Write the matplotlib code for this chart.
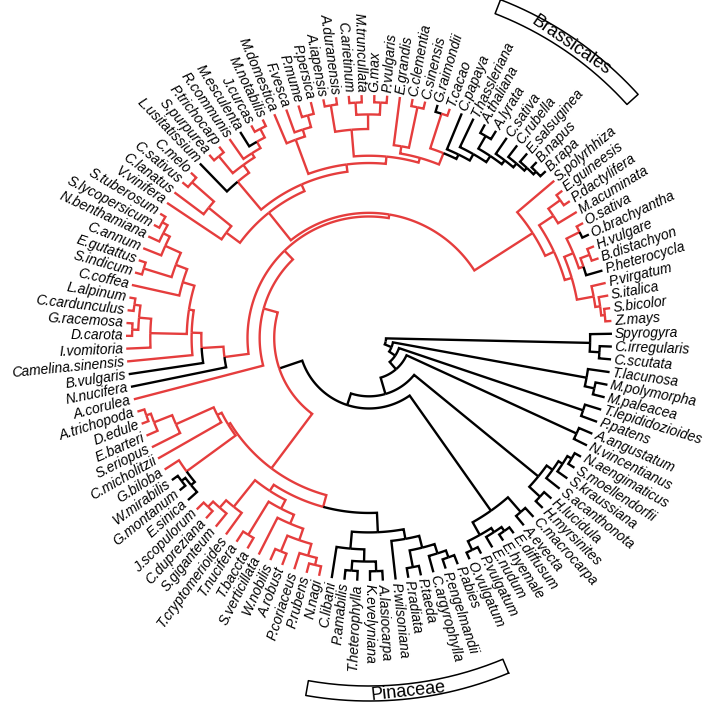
import numpy as np
import matplotlib.pyplot as plt

RED = '#e53d3d'

# clades written clockwise starting at Spyrogyra; "@x" = node radius (tips = 1)
# "*" after a clade = black clade, "+" = red clade
algae = "(Spyrogyra,(C.irregularis,C.scutata)@0.95)@0.91"
liverworts = "(T.lacunosa,(M.polymorpha,M.paleacea)@0.95)@0.91"
mosses = "(T.lepididozioides,P.patens)@0.93"
hornworts = "(A.angustatum,N.vincentianus)@0.94"
lycophytes = "((((N.aengimaticus,S.moellendorfii)@0.97,S.kraussiana)@0.95,S.acanthonota)@0.93,(H.lucidula,H.myrsinites)@0.96)@0.90"
ferns = "((C.macrocarpa,A.evecta)@0.95,(((E.diffusum,E.hyemale)@0.97,E.nudum)@0.95,(P.vulgatum,O.vulgatum)@0.97)@0.93)@0.87"

pinaceae = ("(((((P.abies,P.engelmandii)@0.96,C.argyrophylla)@0.93,(P.taeda,P.radiata)@0.96)@0.89,P.wilsoniana)@0.84,"
            "(((A.lasiocarpa,K.evelyniana)@0.96,(T.heterophylla,P.amabilis)@0.96)@0.92,C.libani)@0.87)@0.80*")
cupressophytes = ("((((((N.nagi,P.rubens)@0.96,P.coriaceus)@0.93,(A.robust,W.nobilis)@0.95)@0.88,S.verticillata)@0.83,"
                  "(T.baccta,T.nucifera)@0.95)@0.79,(T.cryptomerioides,(S.giganteum,(C.dupreziana,J.scopulorum)@0.96)@0.93)@0.89)@0.75")
cycads_ginkgo = ("(((E.sinica,(G.montanum,W.mirabilis)@0.97)@0.95*,G.biloba)@0.93,"
                 "(C.micholitzii,(S.eriopus,(E.barteri,(D.edule,A.trichopoda)@0.97)@0.95)@0.87)@0.70)@0.68")

asterids = ("((I.vomitoria,((D.carota,G.racemosa)@0.975,(C.cardunculus,L.alpinum)@0.975)@0.95)@0.90,"
            "(C.coffea,((S.indicum,E.gutattus)@0.97,(C.annum,(N.benthamiana,(S.lycopersicum,S.tuberosum)@0.975)@0.95)@0.92)@0.85)@0.80)@0.75")
early_eudicots = "(N.nucifera,(B.vulgaris,(Camelina.sinensis," + asterids + ")@0.73)@0.69)@0.60"

vitis_cucurbits = "(V.vinifera,(C.lanatus,(C.sativus,C.melo)@0.97)@0.85)@0.73"
malpighiales = "(L.usitatissium,((S.purpurea,P.trichocarp)@0.97,(R.communis,(M.esculenta,(J.curcas,M.notabilis)@0.97)@0.93)@0.90)@0.88)@0.84"
rosales = "(M.domestica,(F.vesca,(P.mume,P.persica)@0.95)@0.90)@0.87"
fabales = "((A.iapensis,A.duranensis)@0.97,((C.arietinum,M.truncullata)@0.97,(G.max,P.vulgaris)@0.97)@0.92)@0.86"
myrt_citrus = "(E.grandis,(C.clementia,C.sinensis)@0.97)@0.80"
malvales = "(G.raimondii,T.cacao)@0.97"
brassicales = ("(C.papaya,(T.hassleriana,((A.thaliana,A.lyrata)@0.96,(C.sativa,(C.rubella,(E.salsuginea,(B.napus,B.rapa)@0.97)@0.955)@0.94)@0.92)@0.90)@0.87)@0.84*")
monocots = ("(S.polyrhhiza,(((E.guineesis,P.dactylifera)@0.97,M.acuminata)@0.91,(((O.sativa,O.brachyantha)@0.97,"
            "((H.vulgare,B.distachyon)@0.97,P.heterocycla)@0.93)@0.91,(P.virgatum,(S.italica,(S.bicolor,Z.mays)@0.975)@0.96)@0.94)@0.87)@0.84)@0.80")

black_tips = ['N.nucifera', 'B.vulgaris', 'L.usitatissium', 'M.esculenta', 'G.raimondii',
              'O.brachyantha', 'P.heterocycla']

rosids = ("(" + vitis_cucurbits + ",(" + malpighiales + ",(" + rosales + ",(" + fabales + ",(" + myrt_citrus
          + ",(" + malvales + "," + brassicales + ")@0.82)@0.77)@0.75)@0.72)@0.69)@0.66")
angio = "(A.corulea,(" + early_eudicots + ",(" + rosids + "," + monocots + ")@0.515)@0.50)@0.45+"
gymno = "((" + pinaceae + "," + cupressophytes + ")@0.72," + cycads_ginkgo + ")@0.67+"
tree = ("(" + algae + ",(" + liverworts + ",(" + mosses + ",(" + hornworts + ",(" + lycophytes + ",(" + ferns
        + ",(" + gymno + "," + angio + ")@0.39)@0.29)@0.24)@0.17)@0.13)@0.10)@0.07")

# clade bars outside the labels: (text, first tip, last tip)
clade_bars = [('Brassicales', 'C.papaya', 'B.rapa'), ('Pinaceae', 'P.abies', 'C.libani')]


def parse(s):
    pos = 0

    def node():
        nonlocal pos
        if s[pos] == '(':
            pos += 1
            kids = [node()]
            while s[pos] == ',':
                pos += 1
                kids.append(node())
            pos += 2  # ')@'
            j = pos
            while pos < len(s) and (s[pos].isdigit() or s[pos] == '.'):
                pos += 1
            r = float(s[j:pos])
            name = None
        else:
            j = pos
            while pos < len(s) and s[pos] not in ',()*+':
                pos += 1
            name = s[j:pos]
            kids = []
            r = 1.0
        mark = None
        if pos < len(s) and s[pos] in '*+':
            mark = s[pos]
            pos += 1
        return {'name': name, 'kids': kids, 'r': r, 'mark': mark}

    return node()


root = parse(tree)

# tip angles, clockwise
leaves = []


def collect(n):
    if not n['kids']:
        leaves.append(n)
    for k in n['kids']:
        collect(k)


collect(root)
n_tips = len(leaves)
a0 = 1.0
step = 360.0 / n_tips
for i, lf in enumerate(leaves):
    lf['theta'] = a0 - i * step


def set_theta(n, col):
    if n['mark'] == '*':
        col = 'black'
    elif n['mark'] == '+':
        col = RED
    if not n['kids'] and n['name'] in black_tips:
        n['col'] = 'black'
    else:
        n['col'] = col
    for k in n['kids']:
        set_theta(k, col)
    if n['kids']:
        n['theta'] = np.mean([k['theta'] for k in n['kids']])


set_theta(root, 'black')

cx, cy = 369, 338
R = 243
R_lab = 246

fig = plt.figure(figsize=(7.09, 7.07), dpi=100)
ax = fig.add_axes([0, 0, 1, 1])
ax.set_xlim(0, 709)
ax.set_ylim(707, 0)
ax.axis('off')


def xy(r, th):
    t = np.radians(th)
    return cx + r * np.cos(t), cy - r * np.sin(t)


def draw(n):
    for k in n['kids']:
        rp = n['r'] * R
        ths = np.linspace(n['theta'], k['theta'], 60)
        xs, ys = xy(rp, ths)
        x2, y2 = xy(k['r'] * R, k['theta'])
        xs = np.append(xs, x2)
        ys = np.append(ys, y2)
        ax.plot(xs, ys, color=k['col'], lw=1.7, solid_joinstyle='miter', solid_capstyle='butt')
        draw(k)


draw(root)

for lf in leaves:
    th = (lf['theta'] + 180) % 360 - 180
    x, y = xy(R_lab, th)
    if -90 < th <= 90:
        rot, ha = th, 'left'
    else:
        rot, ha = th + 180, 'right'
    ax.text(x, y, lf['name'], rotation=rot, ha=ha, va='center', rotation_mode='anchor',
            fontsize=10, style='italic', family='Liberation Sans')

tip_theta = {lf['name']: lf['theta'] for lf in leaves}
for label, first, last in clade_bars:
    t1 = tip_theta[first] + 1.2
    t2 = tip_theta[last] - 1.2
    ths = np.linspace(t1, t2, 80)
    r_in, r_out = 348, 363
    xo, yo = xy(r_out, ths)
    xi, yi = xy(r_in, ths[::-1])
    px = np.concatenate([xo, xi, xo[:1]])
    py = np.concatenate([yo, yi, yo[:1]])
    ax.plot(px, py, color='black', lw=1.1)
    tm = (t1 + t2) / 2
    tm = (tm + 180) % 360 - 180
    x, y = xy((r_in + r_out) / 2, tm)
    ax.text(x, y, label, rotation=tm - 90 if tm > 0 else tm + 90, ha='center', va='center',
            rotation_mode='anchor', fontsize=13, family='Liberation Sans')

fig.savefig('out.png', dpi=100)
